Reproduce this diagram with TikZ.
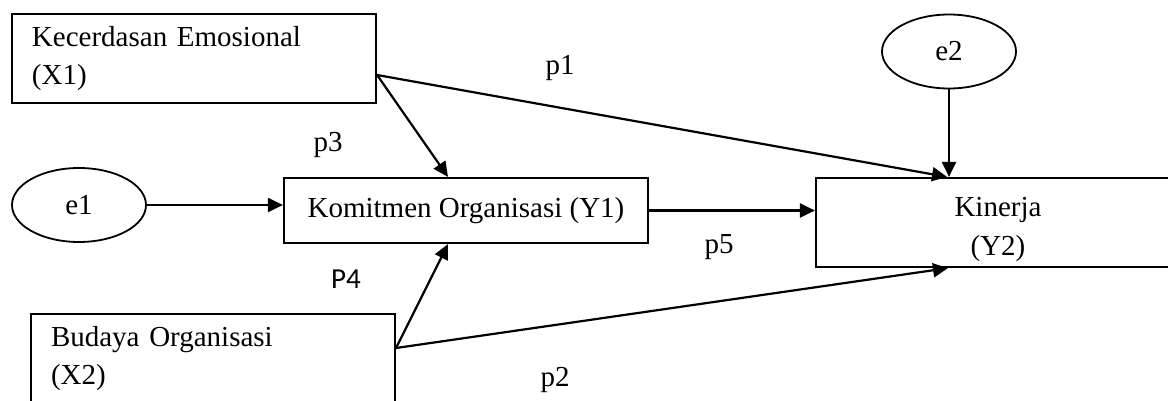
\documentclass[tikz,border=0pt]{standalone}
\usepackage{fontspec}
\setmainfont{Liberation Serif}
\newfontfamily\calibrifont{Carlito}
\usetikzlibrary{arrows.meta,shapes.geometric}
\begin{document}
\begin{tikzpicture}[x=0.5pt,y=-0.5pt,
  every node/.style={font=\fontsize{14.5}{19}\selectfont},
  varbox/.style={draw, line width=1.1pt, minimum width=182pt, inner sep=0pt},
  errell/.style={draw, ellipse, line width=0.9pt, minimum width=67pt, minimum height=37pt, inner sep=0pt},
  patharrow/.style={line width=1.1pt, -{Triangle[length=7.5pt,width=7pt]}},
  lbl/.style={inner sep=0pt}]
\useasboundingbox (0,0) rectangle (1168,401);
\clip (0,0) rectangle (1168,401);
\node[varbox, minimum height=44.5pt, text width=162pt, align=left] (x1) at (194,58.5) {Kecerdasan Emosional\\(X1)};
\node[errell] (e1) at (79,205) {e1};
\node[varbox, minimum height=32.5pt] (y1) at (466,210.5) {Komitmen Organisasi (Y1)};
\node[varbox, minimum height=44.5pt, text width=162pt, align=left] (x2) at (213,358.5) {Budaya Organisasi\\(X2)};
\node[errell] (e2) at (949,51.5) {e2};
\node[varbox, minimum height=44.5pt, label={[align=center, inner sep=0pt, yshift=-3.5pt, font=\fontsize{14.5}{19.5}\selectfont]center:Kinerja\\(Y2)}] (y2) at (998,222.5) {};
\draw[patharrow] ([yshift=-8.25pt]x1.east) -- ([xshift=-9pt]y1.north);
\draw[patharrow] ([yshift=-8.25pt]x1.east) -- ([xshift=-25.5pt]y2.north);
\draw[patharrow] (e2.south) -- (e2.south |- y2.north);
\draw[patharrow] (e1.east) -- (e1.east -| y1.west);
\draw[patharrow] (y1.east) -- (y1.east -| y2.west);
\draw[patharrow] ([yshift=5.25pt]x2.east) -- ([xshift=-9pt]y1.south);
\draw[patharrow] ([yshift=5.25pt]x2.east) -- ([xshift=-25pt]y2.south);
\node[lbl] (p1) at (560,68) {p1};
\node[lbl] (p3) at (328,145) {p3};
\node[lbl, font=\calibrifont\fontsize{14.5}{17}\selectfont] (p4) at (346,279) {P4};
\node[lbl] (p5) at (719,247) {p5};
\node[lbl] (p2) at (555,380) {p2};
\end{tikzpicture}
\end{document}
